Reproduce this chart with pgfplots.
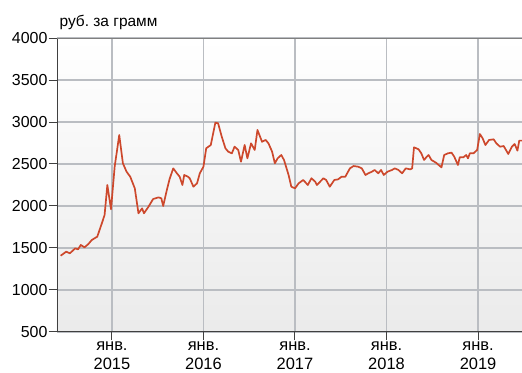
\documentclass[border=0pt]{standalone}
\usepackage{fontspec}
\setmainfont{Liberation Sans}
\usepackage{pgfplots}
\pgfplotsset{compat=1.18}
\definecolor{linered}{RGB}{205,72,44}
\definecolor{gridgray}{RGB}{186,189,194}
\frenchspacing
\begin{document}
\begin{tikzpicture}
\begin{axis}[
  scale only axis,
  width=465bp, height=294bp,
  xmin=2014.40, xmax=2019.48,
  ymin=500, ymax=4000,
  ytick={500,1000,...,4000},
  xtick={2015,2016,2017,2018,2019},
  xticklabels={{янв.\\2015},{янв.\\2016},{янв.\\2017},{янв.\\2018},{янв.\\2019}},
  xticklabel style={align=center, font=\fontsize{16.5}{19}\selectfont, inner sep=1.5pt},
  yticklabel style={font=\fontsize{16}{18}\selectfont, inner sep=1pt},
  /pgf/number format/assume math mode=true,
  /pgf/number format/1000 sep={},
  axis x line*=bottom, axis y line*=left,
  x axis line style={-, draw=black!75, line width=1pt},
  y axis line style={-, draw=black!75, line width=1pt},
  tick align=outside,
  major tick length=8.5bp,
  every tick/.style={draw=black!75, line width=1pt},
  grid=major,
  major grid style={draw=gridgray, line width=1.2pt},
  axis background/.style={shade, top color=white, bottom color=black!8},
  clip=false,
]
\addplot[color=linered, line width=1.7pt, line join=round] table {
x y
2014.44 1408
2014.50 1456
2014.54 1437
2014.60 1496
2014.63 1484
2014.66 1536
2014.70 1508
2014.74 1544
2014.78 1595
2014.81 1615
2014.84 1635
2014.89 1794
2014.92 1893
2014.95 2250
2014.99 1961
2015.03 2468
2015.08 2845
2015.12 2508
2015.16 2408
2015.20 2349
2015.25 2210
2015.29 1913
2015.33 1972
2015.35 1913
2015.40 1992
2015.45 2083
2015.51 2103
2015.54 2091
2015.56 2000
2015.60 2190
2015.63 2321
2015.67 2448
2015.71 2389
2015.74 2349
2015.77 2250
2015.79 2369
2015.83 2349
2015.85 2330
2015.89 2230
2015.93 2270
2015.96 2389
2016.00 2468
2016.03 2687
2016.08 2726
2016.13 2992
2016.16 2985
2016.20 2825
2016.24 2687
2016.27 2647
2016.31 2627
2016.34 2706
2016.38 2667
2016.41 2527
2016.45 2726
2016.48 2567
2016.52 2746
2016.56 2667
2016.59 2905
2016.64 2765
2016.68 2786
2016.71 2746
2016.75 2647
2016.78 2508
2016.81 2567
2016.85 2607
2016.88 2548
2016.93 2369
2016.96 2230
2017.00 2210
2017.04 2270
2017.09 2310
2017.14 2250
2017.18 2330
2017.22 2290
2017.24 2250
2017.31 2330
2017.34 2310
2017.38 2230
2017.43 2310
2017.47 2317
2017.51 2349
2017.55 2349
2017.57 2389
2017.60 2448
2017.64 2476
2017.69 2468
2017.73 2448
2017.77 2369
2017.80 2389
2017.84 2408
2017.87 2429
2017.91 2389
2017.94 2429
2017.97 2369
2018.01 2408
2018.06 2429
2018.09 2448
2018.13 2429
2018.17 2389
2018.21 2448
2018.26 2436
2018.28 2448
2018.30 2699
2018.35 2675
2018.38 2627
2018.41 2548
2018.44 2587
2018.46 2607
2018.49 2548
2018.54 2516
2018.57 2488
2018.60 2460
2018.63 2607
2018.67 2627
2018.71 2635
2018.74 2587
2018.78 2488
2018.80 2580
2018.84 2580
2018.87 2607
2018.89 2567
2018.91 2627
2018.95 2627
2018.99 2667
2019.02 2857
2019.05 2806
2019.08 2726
2019.12 2786
2019.17 2794
2019.20 2746
2019.24 2706
2019.28 2714
2019.33 2619
2019.37 2706
2019.40 2738
2019.43 2659
2019.45 2778
2019.48 2778
};
\draw[draw=black!50, line width=1pt] (rel axis cs:0,1) -- (rel axis cs:1,1);
\node[anchor=base west, inner sep=0pt, xshift=2.5bp, yshift=12bp, font=\fontsize{15.5}{17}\selectfont] at (rel axis cs:0,1) {руб. за грамм};
\end{axis}
\pgfresetboundingbox
\path[use as bounding box] ([shift={(-57bp,-41bp)}]current axis.south west) rectangle ([shift={(0bp,38bp)}]current axis.north east);
\end{tikzpicture}
\end{document}
